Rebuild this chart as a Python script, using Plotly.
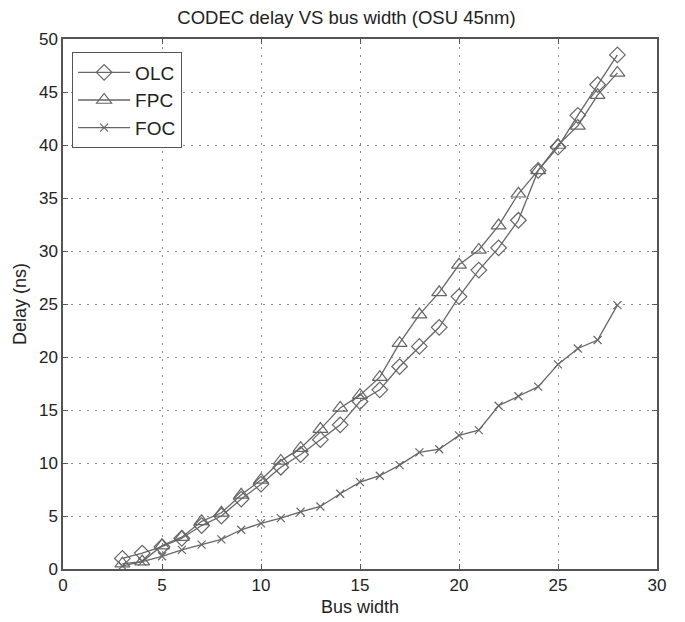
import plotly.graph_objects as go

bus_width = list(range(3, 29))
olc = [1.0, 1.5, 2.1, 2.9, 4.1, 5.0, 6.6, 8.0, 9.6, 10.8, 12.2, 13.6, 15.8, 16.9,
       19.1, 21.0, 22.8, 25.7, 28.2, 30.3, 32.9, 37.6, 39.8, 42.8, 45.7, 48.5]
fpc = [0.5, 0.7, 2.2, 3.0, 4.5, 5.3, 7.0, 8.4, 10.2, 11.4, 13.2, 15.2, 16.4, 18.1,
       21.3, 24.0, 26.1, 28.7, 30.1, 32.4, 35.4, 37.6, 40.0, 41.8, 44.7, 46.8]
foc = [0.3, 0.7, 1.2, 1.8, 2.3, 2.8, 3.7, 4.3, 4.8, 5.4, 5.9, 7.1, 8.2, 8.8,
       9.8, 11.0, 11.3, 12.6, 13.1, 15.4, 16.3, 17.2, 19.3, 20.8, 21.6, 24.9]

line_col = "#666666"
font_fam = "Liberation Sans, Arial, sans-serif"
text_col = "#222222"

fig = go.Figure()
fig.add_trace(go.Scatter(x=bus_width, y=olc, name="OLC", mode="lines+markers",
                         line=dict(color=line_col, width=1.3),
                         marker=dict(symbol="diamond-open", size=12, color=line_col,
                                     line=dict(width=1.2, color=line_col))))
fig.add_trace(go.Scatter(x=bus_width, y=fpc, name="FPC", mode="lines+markers",
                         line=dict(color=line_col, width=1.3),
                         marker=dict(symbol="triangle-up-open", size=13, color=line_col,
                                     line=dict(width=1.2, color=line_col))))
fig.add_trace(go.Scatter(x=bus_width, y=foc, name="FOC", mode="lines+markers",
                         line=dict(color=line_col, width=1.3),
                         marker=dict(symbol="x-thin-open", size=8, color=line_col,
                                     line=dict(width=1.2, color=line_col))))

axis_common = dict(
    showline=True, linecolor="#555555", linewidth=1.5, mirror="allticks",
    ticks="inside", ticklen=5, tickcolor="#555555",
    showgrid=True, gridcolor="#8a8a8a", griddash="2px,6px", gridwidth=1,
    zeroline=False, automargin=False,
    tickfont=dict(family=font_fam, size=17, color=text_col),
)

fig.update_layout(
    width=677, height=614,
    paper_bgcolor="white", plot_bgcolor="white",
    margin=dict(l=55, r=28, t=31, b=53),
    title=dict(text="CODEC delay VS bus width (OSU 45nm)", x=0.5, xanchor="center",
               y=0.985, yanchor="middle",
               font=dict(family=font_fam, size=18.5, color=text_col)),
    xaxis=dict(range=[0, 30], dtick=5, **axis_common),
    yaxis=dict(range=[0, 50], dtick=5, **axis_common),
    legend=dict(x=0.015, y=0.975, xanchor="left", yanchor="top",
                bgcolor="white", bordercolor="#555555", borderwidth=1.2,
                font=dict(family=font_fam, size=19, color=text_col),
                tracegroupgap=0, itemwidth=52),
    showlegend=True,
    annotations=[
        dict(text="Bus width", xref="paper", yref="paper", x=0.5, y=0,
             xanchor="center", yanchor="middle", yshift=-38, showarrow=False,
             font=dict(family=font_fam, size=18, color=text_col)),
        dict(text="Delay (ns)", xref="paper", yref="paper", x=0, y=0.5,
             xanchor="center", yanchor="middle", xshift=-43, textangle=-90,
             showarrow=False,
             font=dict(family=font_fam, size=18, color=text_col)),
    ],
)

fig.write_html("out.html")
